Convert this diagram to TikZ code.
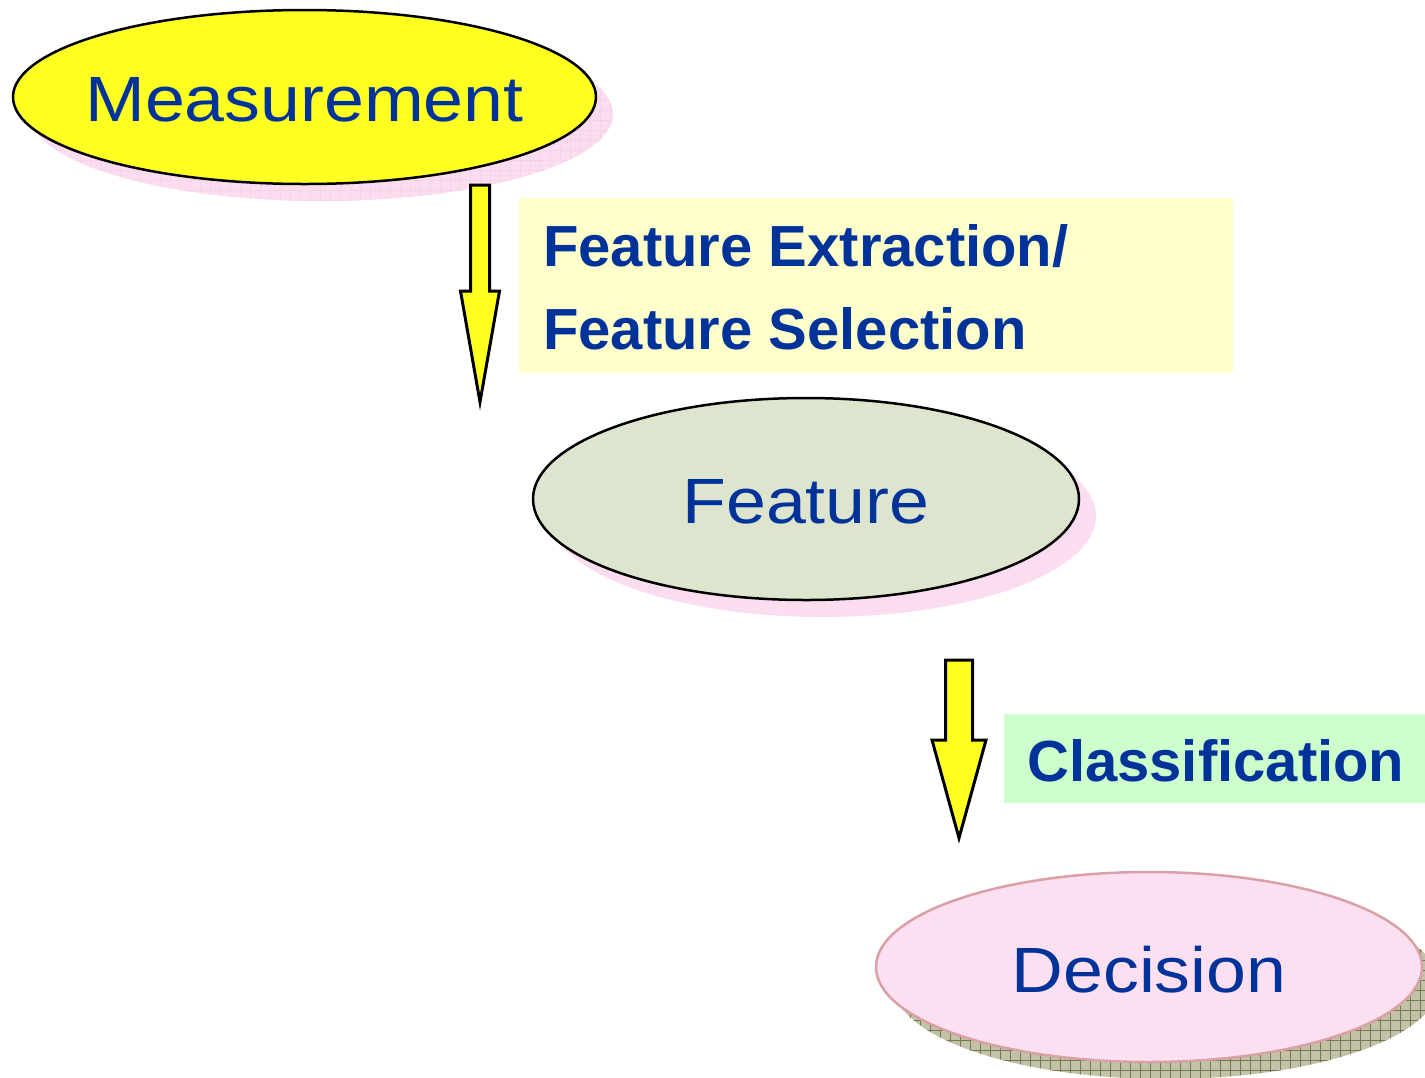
\documentclass[tikz,border=0pt]{standalone}
\usepackage{fontspec}
\setmainfont{Liberation Sans}
\usetikzlibrary{shapes.geometric}
\definecolor{txtblue}{HTML}{003399}
\definecolor{ylw}{HTML}{FFFF22}
\definecolor{featfill}{HTML}{DDE5CF}
\definecolor{lblA}{HTML}{FFFFCC}
\definecolor{lblB}{HTML}{CCFFCC}
\definecolor{decfill}{HTML}{FDDFF2}
\definecolor{decline}{HTML}{D9A0A6}
\definecolor{pinkshadow}{HTML}{FCDDF0}
\definecolor{pinkgrid}{HTML}{F8D3E8}
\definecolor{oliveshadow}{HTML}{C2C2A6}
\definecolor{olivegrid}{HTML}{777752}
\newcommand{\bigtxt}[1]{\makebox[0pt]{\raisebox{-3pt}[\height][\depth]{\scalebox{1.12}[1]{\fontsize{64}{64}\selectfont #1}}}}
\begin{document}
\begin{tikzpicture}[x=1pt,y=-1pt,
  ell/.style={ellipse, inner sep=0pt, text=txtblue},
  lbl/.style={anchor=base west, inner sep=0pt, text=txtblue, font=\fontsize{58}{58}\selectfont\bfseries},
  blockarrow/.style={fill=ylw, draw=black, line width=3pt, line join=miter},
  labelbox/.style={anchor=north west, inner sep=0pt}]
\useasboundingbox (0,0) rectangle (1425,1077);
\clip (0,0) rectangle (1425,1077);

% shadows
\fill[pinkshadow] (321.5,114) ellipse [x radius=291.5, y radius=87];
\begin{scope}
  \clip (321.5,114) ellipse [x radius=291.5, y radius=87];
  \draw[pinkgrid, line width=0.5pt, step=10pt] (0,0) grid (700,300);
\end{scope}
\fill[pinkshadow] (823,516) ellipse [x radius=273, y radius=101];
\fill[oliveshadow] (1166,984) ellipse [x radius=273, y radius=95];
\begin{scope}
  \clip (1166,984) ellipse [x radius=273, y radius=95];
  \draw[olivegrid, line width=0.9pt, step=10pt] (880,880) grid (1440,1090);
\end{scope}

% ellipses
\node[ell, fill=ylw, draw=black, line width=2.5pt, minimum width=583, minimum height=174] (meas) at (304.5,97) {\bigtxt{Measurement}};
\node[ell, fill=featfill, draw=black, line width=2.5pt, minimum width=546, minimum height=202] (feat) at (806,499) {\bigtxt{Feature}};
\node[ell, fill=decfill, draw=decline, line width=2.5pt, minimum width=546, minimum height=190] (dec) at (1149,967) {\bigtxt{Decision}};

% label boxes
\node[labelbox, fill=lblA, minimum width=714, minimum height=175] (boxA) at (519,198) {};
\node[lbl] (feA) at (543,266) {Feature Extraction/};
\node[lbl] (feB) at (543,349) {Feature Selection};
\node[labelbox, fill=lblB, minimum width=421, minimum height=89] (boxB) at (1004,714) {};
\node[lbl] (cls) at (1027,781) {Classification};

% block arrows
\coordinate (a1top) at (480,185);
\coordinate (a1tip) at (480,402);
\draw[blockarrow] (470.5,185) -- (489.5,185) -- (489.5,291) -- (499.5,291) -- (a1tip) -- (460.5,291) -- (470.5,291) -- cycle;
\coordinate (a2top) at (959,660);
\coordinate (a2tip) at (959,838);
\draw[blockarrow] (945.5,660) -- (972.5,660) -- (972.5,740) -- (986,740) -- (a2tip) -- (932,740) -- (945.5,740) -- cycle;
\end{tikzpicture}
\end{document}
